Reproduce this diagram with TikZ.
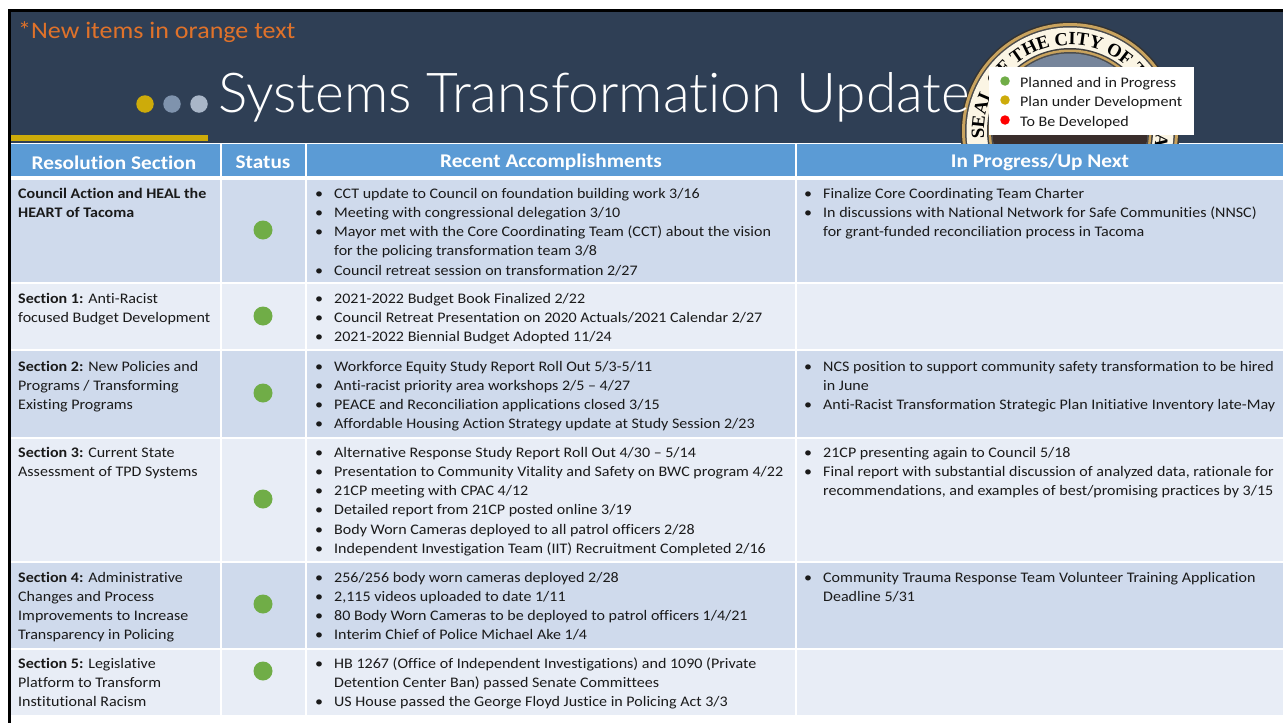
\documentclass[tikz,border=0pt]{standalone}
\usepackage{fontspec}
\setmainfont{Carlito}[FakeStretch=1.098,Ligatures=NoCommon]
\newfontfamily\titlefont{Lato Light}[Ligatures=NoCommon]
\newfontfamily\sealfont{Liberation Serif}
\usetikzlibrary{decorations.text}
\definecolor{hdr}{HTML}{5B9BD5}
\definecolor{rowa}{HTML}{CFDAEC}
\definecolor{rowb}{HTML}{E8EDF6}
\definecolor{navy}{HTML}{2F3F55}
\definecolor{gold}{HTML}{CDAB0A}
\definecolor{dotb}{HTML}{7F93AD}
\definecolor{dotc}{HTML}{A9B6C8}
\definecolor{okgreen}{HTML}{70AD47}
\definecolor{orangetxt}{HTML}{E0722A}
\definecolor{inktxt}{HTML}{1A1A1A}
\definecolor{sealrim}{HTML}{C9A35E}
\definecolor{sealcream}{HTML}{FBF5E4}
\definecolor{sealsky}{HTML}{76859B}
\definecolor{sealdark}{HTML}{3A2E2C}
\newcommand{\fs}{\fontsize{14.6}{19.2}\selectfont}
\newcommand{\st}{\rule{0pt}{14pt}}
\newcommand{\bl}{\makebox[0pt][r]{•\hspace{11pt}}\st}
\tikzset{x=1pt,y=-1pt,
 cella/.style={fill=rowa,draw=none},
 cellb/.style={fill=rowb,draw=none},
 headcell/.style={fill=hdr,draw=none},
 headtext/.style={text=white,font=\fontsize{19.4}{22}\selectfont\bfseries,inner sep=0,anchor=center},
 celltext/.style={text=inktxt,font=\fs,inner sep=0,anchor=north west,align=left},
 statusdot/.style={circle,fill=okgreen,draw=none,minimum size=19pt,inner sep=0},
 legdot/.style={circle,draw=none,minimum size=9.5pt,inner sep=0},
 legtext/.style={text=inktxt,font=\fontsize{14.6}{17}\selectfont,inner sep=0,anchor=base west}}
\begin{document}
\begin{tikzpicture}
\useasboundingbox (0,0) rectangle (1283,723);
\fill[white] (0,0) rectangle (1283,723);
% slide
\fill[black] (8,9) rectangle (1283,723);
\fill[white] (11,143) rectangle (1283,723);
\fill[navy] (11,12) rectangle (1283,143);
% seal
\begin{scope}
\clip (940,12) rectangle (1283,143);
\begin{scope}[shift={(1070,131)},y=1pt]
\fill[black!80] (0,0) circle (109.5);
\fill[sealrim] (0,0) circle (108);
\fill[black!70] (0,0) circle (105);
\fill[sealcream] (0,0) circle (103.5);
\fill[black!75] (0,0) circle (83);
\fill[sealrim] (0,0) circle (81.5);
\fill[black!70] (0,0) circle (79);
\fill[sealsky] (0,0) circle (77.5);
\begin{scope}
\clip (0,0) circle (77.5);
\fill[sealdark] (-110,-2) rectangle (110,-20);
\end{scope}
\path[decorate,decoration={text along path,text align=left,
  text={|\fontsize{18.6}{20}\sealfont\bfseries\color{black}|SEAL OF THE CITY OF TACOMA}}]
  (185:86) arc[start angle=185,end angle=-60,radius=86];
\end{scope}
\end{scope}
% gold rule and dots
\fill[gold] (11,135) rectangle (208,141);
\node[circle,fill=gold,minimum size=17.5pt,inner sep=0] (d1) at (145,104) {};
\node[circle,fill=dotb,minimum size=17.5pt,inner sep=0] (d2) at (172,104) {};
\node[circle,fill=dotc,minimum size=17.5pt,inner sep=0] (d3) at (199,104) {};
\node[text=orangetxt,font=\fontsize{23.7}{28}\selectfont,inner sep=0,anchor=base west] (newitems) at (18,38) {*New items in orange text};
\node[text=white,font=\fontsize{55}{60}\titlefont,inner sep=0,anchor=base west] (title) at (218,112) {Systems Transformation Update};
% legend
\fill[white] (989,67) rectangle (1194,135);
\node[legdot,fill=okgreen] (l1) at (1005,81) {};
\node[legdot,fill=gold] (l2) at (1005,100) {};
\node[legdot,fill=red] (l3) at (1005,120) {};
\node[legtext] (lt1) at (1020,87) {Planned and in Progress};
\node[legtext] (lt2) at (1020,106) {Plan under Development};
\node[legtext] (lt3) at (1020,126) {To Be Developed};
% table header
\fill[headcell] (11,144) rectangle (220,176);
\fill[headcell] (222,144) rectangle (305,176);
\fill[headcell] (307,144) rectangle (795,176);
\fill[headcell] (797,144) rectangle (1283,176);
\node[headtext] (h1) at (114,162.5) {Resolution Section};
\node[headtext] (h2) at (263,162.5) {Status};
\node[headtext] (h3) at (551,162.5) {Recent Accomplishments};
\node[headtext] (h4) at (1040,162.5) {In Progress/Up Next};
% rows
\foreach \t/\b/\s in {180/282/cella,284/349/cellb,351/437/cella,439/561/cellb,563/648/cella,650/715/cellb}{
  \fill[\s] (11,\t) rectangle (220,\b);
  \fill[\s] (222,\t) rectangle (305,\b);
  \fill[\s] (307,\t) rectangle (795,\b);
  \fill[\s] (797,\t) rectangle (1283,\b);
}
\node[statusdot] (s0) at (263,230) {};
\node[statusdot] (s1) at (263,316) {};
\node[statusdot] (s2) at (263,393) {};
\node[statusdot] (s3) at (263,499) {};
\node[statusdot] (s4) at (263,604) {};
\node[statusdot] (s5) at (263,671) {};
% column 1
\node[celltext] (a0) at (18,184) {\st\textbf{Council Action and HEAL the}\\\st\textbf{HEART of Tacoma}};
\node[celltext] (a1) at (18,289) {\st\textbf{Section 1:} Anti-Racist\\\st focused Budget Development};
\node[celltext] (a2) at (18,357) {\st\textbf{Section 2:} New Policies and\\\st Programs / Transforming\\\st Existing Programs};
\node[celltext] (a3) at (18,443) {\st\textbf{Section 3:} Current State\\\st Assessment of TPD Systems};
\node[celltext] (a4) at (18,568) {\st\textbf{Section 4:} Administrative\\\st Changes and Process\\\st Improvements to Increase\\\st Transparency in Policing};
\node[celltext] (a5) at (18,654) {\st\textbf{Section 5:} Legislative\\\st Platform to Transform\\\st Institutional Racism};
% column 3
\node[celltext] (c0) at (334,184) {\bl CCT update to Council on foundation building work 3/16\\\bl Meeting with congressional delegation 3/10\\\bl Mayor met with the Core Coordinating Team (CCT) about the vision\\\st for the policing transformation team 3/8\\\bl Council retreat session on transformation 2/27};
\node[celltext] (c1) at (334,289) {\bl 2021-2022 Budget Book Finalized 2/22\\\bl Council Retreat Presentation on 2020 Actuals/2021 Calendar 2/27\\\bl 2021-2022 Biennial Budget Adopted 11/24};
\node[celltext] (c2) at (334,357) {\bl Workforce Equity Study Report Roll Out 5/3-5/11\\\bl Anti-racist priority area workshops 2/5 – 4/27\\\bl PEACE and Reconciliation applications closed 3/15\\\bl Affordable Housing Action Strategy update at Study Session 2/23};
\node[celltext] (c3) at (334,443) {\bl Alternative Response Study Report Roll Out 4/30 – 5/14\\\bl Presentation to Community Vitality and Safety on BWC program 4/22\\\bl 21CP meeting with CPAC 4/12\\\bl Detailed report from 21CP posted online 3/19\\\bl Body Worn Cameras deployed to all patrol officers 2/28\\\bl Independent Investigation Team (IIT) Recruitment Completed 2/16};
\node[celltext] (c4) at (334,568) {\bl 256/256 body worn cameras deployed 2/28\\\bl 2,115 videos uploaded to date 1/11\\\bl 80 Body Worn Cameras to be deployed to patrol officers 1/4/21\\\bl Interim Chief of Police Michael Ake 1/4};
\node[celltext] (c5) at (334,654) {\bl HB 1267 (Office of Independent Investigations) and 1090 (Private\\\st Detention Center Ban) passed Senate Committees\\\bl US House passed the George Floyd Justice in Policing Act 3/3};
% column 4
\node[celltext] (d0) at (823,184) {\bl Finalize Core Coordinating Team Charter\\\bl In discussions with National Network for Safe Communities (NNSC)\\\st for grant-funded reconciliation process in Tacoma};
\node[celltext] (d2) at (823,357) {\bl NCS position to support community safety transformation to be hired\\\st in June\\\bl Anti-Racist Transformation Strategic Plan Initiative Inventory late-May};
\node[celltext] (d3) at (823,443) {\bl 21CP presenting again to Council 5/18\\\bl Final report with substantial discussion of analyzed data, rationale for\\\st recommendations, and examples of best/promising practices by 3/15};
\node[celltext] (d4) at (823,568) {\bl Community Trauma Response Team Volunteer Training Application\\\st Deadline 5/31};
\end{tikzpicture}
\end{document}
